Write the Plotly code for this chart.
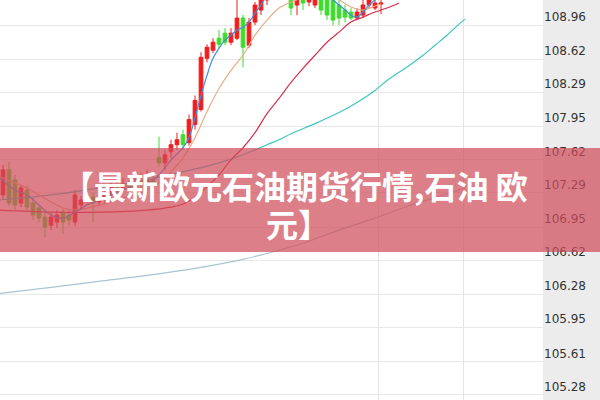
import plotly.graph_objects as go

# ---- candle data (index = bar number) ----
opens  = [107.27,107.52,107.42,107.19,107.32,107.19,107.14,107.05,106.97,107.00,
          107.10,107.07,107.00,107.17,107.27,107.25,107.20,107.22,107.29,107.37,
          107.34,107.39,107.36,107.40,107.37,107.42,107.64,107.59,107.70,107.77,
          107.87,107.79,107.97,108.12,108.63,108.71,108.83,108.88,108.79,108.83,
          109.03,108.76,108.99,109.11,109.21,109.41,109.56,109.46,109.31,109.16,
          109.26,109.19,109.16,109.21,109.26,109.21,109.16,109.11,109.09,109.03,
          109.06,109.16,109.13,109.17]
closes = [107.52,107.19,107.17,107.34,107.15,107.07,107.04,106.95,107.05,107.07,
          107.00,107.02,107.27,107.22,107.22,107.19,107.25,107.27,107.35,107.32,
          107.38,107.35,107.40,107.36,107.42,107.38,107.59,107.67,107.77,107.82,
          107.77,108.02,108.21,108.64,108.74,108.79,108.77,108.79,108.88,109.03,
          108.74,108.99,109.16,109.31,109.41,109.61,109.46,109.26,109.13,109.26,
          109.18,109.29,109.26,109.11,109.06,109.01,109.03,109.04,109.03,109.09,
          109.16,109.21,109.18,109.18]
highs  = [107.57,107.60,107.47,107.37,107.36,107.24,107.17,107.10,107.09,107.12,
          107.14,107.12,107.32,107.26,107.32,107.29,107.29,107.31,107.39,107.42,
          107.44,107.42,107.46,107.50,107.52,107.47,107.85,107.72,107.82,107.89,
          107.92,108.07,108.26,108.69,108.77,108.83,108.91,108.93,108.93,109.26,
          109.06,109.03,109.19,109.36,109.51,109.71,109.66,109.51,109.36,109.31,
          109.31,109.33,109.31,109.26,109.31,109.26,109.21,109.16,109.13,109.13,
          109.21,109.26,109.21,109.23]
lows   = [107.22,107.16,107.12,107.15,107.10,107.02,107.00,106.85,106.92,106.94,
          106.88,106.97,106.96,107.12,107.17,107.00,107.16,107.18,107.24,107.27,
          107.30,107.30,107.32,107.30,107.32,107.34,107.56,107.52,107.64,107.72,
          107.72,107.76,107.92,108.10,108.59,108.68,108.73,108.76,108.76,108.81,
          108.54,108.73,108.96,109.06,109.16,109.31,109.36,109.21,109.06,109.06,
          109.11,109.15,109.13,109.06,109.01,108.96,108.96,108.99,109.01,109.01,
          109.03,109.13,109.11,109.07]
bars = list(range(len(opens)))

# ---- moving-average lines (bar index, value) ----
ma5_x = [-0.5,2,4,6,8,10,12,14,16,18,20,22,24,26,28,30,31,32,33,34,35,36,37,38,39,40,
         41,42,43,44,46,48,50,52,54,55,56,57,58,59,60,61,62,63]
ma5_y = [107.44,107.32,107.27,107.17,107.07,107.04,107.10,107.17,107.22,107.27,
         107.32,107.36,107.38,107.47,107.62,107.74,107.84,108.04,108.26,108.46,
         108.63,108.73,108.81,108.86,108.91,108.94,108.99,109.08,109.16,109.26,
         109.46,109.51,109.46,109.36,109.26,109.21,109.16,109.11,109.06,109.04,
         109.09,109.16,109.21,109.23]

ma10_x = [-0.5,2,4,6,8,10,12,14,16,18,20,22,24,26,28,30,32,34,36,38,40,42,44,46,48,
          50,52,54,56,58,60,62,63]
ma10_y = [107.45,107.39,107.34,107.27,107.20,107.14,107.12,107.14,107.17,107.20,
          107.24,107.27,107.32,107.39,107.50,107.64,107.84,108.10,108.33,108.51,
          108.66,108.86,109.01,109.13,109.19,109.23,109.24,109.24,109.21,109.14,
          109.11,109.15,109.17]

ma20_x = [-0.5,8,16,24,28,30,32,34,36,38,40,42,44,46,48,50,52,54,56,58,60,62,64,66]
ma20_y = [107.12,107.10,107.10,107.12,107.15,107.18,107.25,107.35,107.47,107.62,
          107.74,107.89,108.08,108.23,108.39,108.53,108.66,108.79,108.89,108.99,
          109.04,109.09,109.13,109.18]

ma60_x = [-0.5,8,16,24,30,36,40,44,46,48,52,56,59,62,64,66,68,70,72,74,76,77]
ma60_y = [107.22,107.27,107.34,107.42,107.50,107.59,107.67,107.77,107.82,107.88,
          107.98,108.09,108.19,108.31,108.41,108.49,108.57,108.66,108.76,108.86,
          108.97,109.02]

ma120_x = [-0.5,8,16,24,32,40,46,50,56,62,68,74,77]
ma120_y = [106.29,106.35,106.41,106.47,106.54,106.63,106.72,106.79,106.92,107.04,
           107.17,107.28,107.34]

y_ticks = [105.28,105.61,105.95,106.28,106.62,106.95,107.29,107.62,107.95,108.29,108.62,108.96]
v_grid = [62.5, 76.8]

title_line1 = "【最新欧元石油期货行情,石油 欧"
title_line2 = "元】"

fig = go.Figure()
fig.add_trace(go.Candlestick(
    x=bars, open=opens, high=highs, low=lows, close=closes,
    increasing=dict(line=dict(color="#f21c1c", width=1), fillcolor="#f21c1c"),
    decreasing=dict(line=dict(color="#3fdc2e", width=1), fillcolor="#3fdc2e"),
    whiskerwidth=0, showlegend=False, hoverinfo="skip"))

for xs, ys, col in [(ma120_x, ma120_y, "#a9c4d2"),
                    (ma60_x, ma60_y, "#3cc6c0"),
                    (ma20_x, ma20_y, "#d2334a"),
                    (ma10_x, ma10_y, "#e6ad86"),
                    (ma5_x, ma5_y, "#3f8fe0")]:
    fig.add_trace(go.Scatter(x=xs, y=ys, mode="lines", line=dict(color=col, width=1.2, shape="spline"),
                             showlegend=False, hoverinfo="skip"))

title_font = dict(family="Noto Sans CJK SC", size=32, color="white", weight="bold")

fig.update_layout(
    width=600, height=400,
    margin=dict(l=0, r=57, t=0, b=0, autoexpand=False),
    paper_bgcolor="white", plot_bgcolor="white",
    boxgap=0.12,
    hovermode=False,
    xaxis=dict(range=[-0.5, 90], rangeslider=dict(visible=False), showticklabels=False,
               tickmode="array", tickvals=v_grid, showgrid=True, gridcolor="#e4e4e4",
               gridwidth=1, zeroline=False, ticks="", automargin=False),
    yaxis=dict(range=[105.23, 109.21], side="right", tickmode="array", tickvals=y_ticks,
               ticktext=[f"{v:.2f}" for v in y_ticks], ticklabelposition="outside top",
               showgrid=True, gridcolor="#e8e8e8", gridwidth=1, zeroline=False, ticks="",
               automargin=False,
               tickfont=dict(family="DejaVu Sans", size=12, color="#333333")),
    shapes=[
        dict(type="rect", xref="paper", yref="paper", x0=1, x1=1.2, y0=0, y1=1,
             fillcolor="#ececec", line=dict(width=0), layer="below"),
        dict(type="rect", xref="paper", yref="paper", x0=0, x1=1.2, y0=0.37, y1=0.63,
             fillcolor="rgba(208,78,92,0.72)", line=dict(width=0), layer="above"),
    ],
    annotations=[
        dict(text=title_line1, xref="paper", yref="paper", x=295/543, y=1 - 185/400,
             xanchor="center", yanchor="middle", showarrow=False, font=title_font),
        dict(text=title_line2, xref="paper", yref="paper", x=298/543, y=1 - 223/400,
             xanchor="center", yanchor="middle", showarrow=False, font=title_font),
    ],
)

fig.write_html("out.html", config={"displayModeBar": False},
               post_script="document.body.style.margin='0';document.body.style.overflow='hidden';")
